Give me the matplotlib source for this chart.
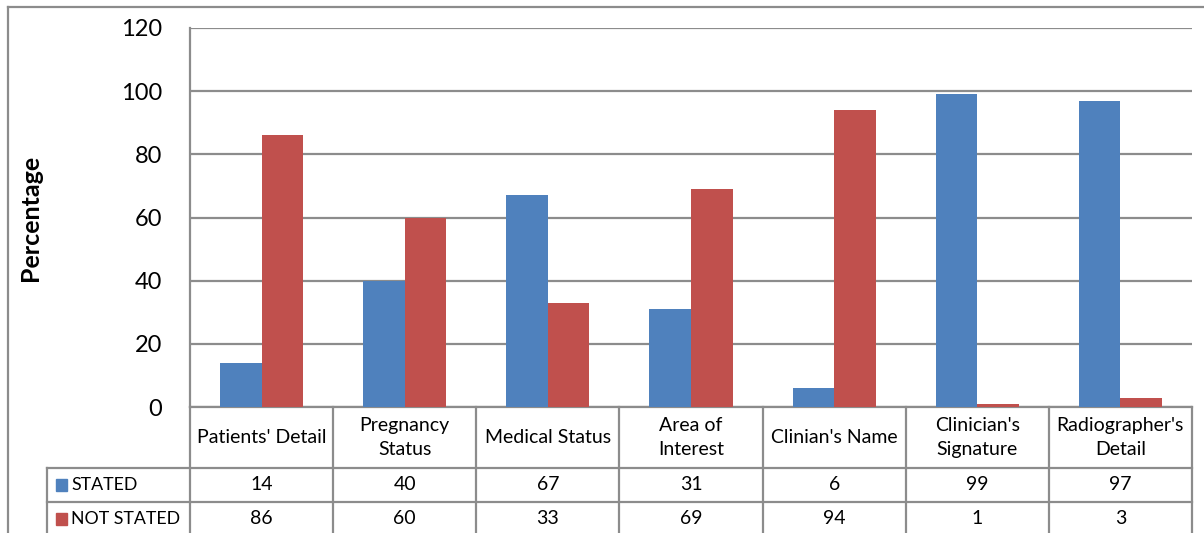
import matplotlib
matplotlib.use("Agg")
import matplotlib.pyplot as plt
import matplotlib.transforms as mtransforms
from matplotlib.lines import Line2D
from matplotlib.patches import Rectangle
import numpy as np

categories = ["Patients' Detail", "Pregnancy\nStatus", "Medical Status", "Area of\nInterest",
              "Clinian's Name", "Clinician's\nSignature", "Radiographer's\nDetail"]
series_names = ["STATED", "NOT STATED"]
stated = [14, 40, 67, 31, 6, 99, 97]
not_stated = [86, 60, 33, 69, 94, 1, 3]
y_ticks = [0, 20, 40, 60, 80, 100, 120]

BLUE = "#4F81BD"
RED = "#C0504D"
GRID = "#8C8C8C"
W, H = 1204, 533
TABLE_FS = 14

plt.rcParams["font.family"] = ["Lato", "DejaVu Sans"]

fig = plt.figure(figsize=(W / 100, H / 100), dpi=100)


def fx(px):
    return px / W


def fy(py):
    # pixel row from the top -> figure fraction
    return 1 - py / H


ax = fig.add_axes([fx(190), fy(407), fx(1192 - 190), (407 - 28) / H])

x = np.arange(len(categories))
bw = 0.29
ax.bar(x - bw / 2, stated, bw, color=BLUE, zorder=3)
ax.bar(x + bw / 2, not_stated, bw, color=RED, zorder=3)

ax.set_xlim(-0.5, len(categories) - 0.5)
ax.set_ylim(0, 120)
ax.set_yticks(y_ticks)
ax.set_yticklabels([str(t) for t in y_ticks], fontsize=17, color="black")
ax.tick_params(axis="y", length=0, pad=20)
ax.set_xticks([])
ax.yaxis.grid(True, color=GRID, linewidth=1.6, zorder=0)
for side in ["top", "right"]:
    ax.spines[side].set_visible(False)
for side in ["left", "bottom"]:
    ax.spines[side].set_color(GRID)
    ax.spines[side].set_linewidth(1.6)

fig.text(fx(31), fy(218), "Percentage", rotation=90, ha="center", va="center",
         fontsize=18, fontweight="bold")

# data table under the plot
tr = mtransforms.blended_transform_factory(ax.transData, fig.transFigure)
n = len(categories)
row_tops = [407, 468, 502, 536]
lk = dict(color=GRID, linewidth=1.6, transform=tr, clip_on=False)
for xi in np.arange(-0.5, n, 1.0):
    fig.add_artist(Line2D([xi, xi], [fy(407), fy(536)], **lk))
fig.add_artist(Line2D([-1.5, -1.5], [fy(468), fy(536)], **lk))
for yy in row_tops[1:3]:
    fig.add_artist(Line2D([-1.5, n - 0.5], [fy(yy), fy(yy)], **lk))

for i, cat in enumerate(categories):
    fig.text(i, fy((407 + 468) / 2), cat, transform=tr, ha="center", va="center",
             fontsize=TABLE_FS, linespacing=1.45)

for r, (name, vals, col) in enumerate([(series_names[0], stated, BLUE),
                                       (series_names[1], not_stated, RED)]):
    yc_px = (row_tops[r + 1] + row_tops[r + 2]) / 2
    yc = fy(yc_px)
    for i, v in enumerate(vals):
        fig.text(i, yc, str(v), transform=tr, ha="center", va="center", fontsize=TABLE_FS)
    fig.add_artist(Rectangle((fx(56), fy(yc_px + 6)), fx(11), 12 / H,
                             color=col, transform=fig.transFigure))
    fig.text(fx(71), yc, name, ha="left", va="center", fontsize=12.8)

# outer chart border
fig.add_artist(Line2D([fx(8), fx(8)], [fy(7), 0], color=GRID, linewidth=1.6))
fig.add_artist(Line2D([fx(8), 1], [fy(7), fy(7)], color=GRID, linewidth=1.6))

fig.savefig("out.png", dpi=100)
